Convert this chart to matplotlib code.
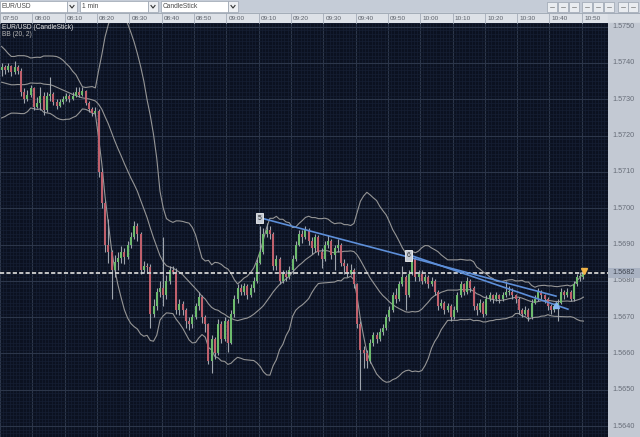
import numpy as np
import pandas as pd
import matplotlib
matplotlib.use("Agg")
import matplotlib.pyplot as plt
import matplotlib.transforms as mtransforms
from matplotlib.patches import Rectangle

plt.rcParams['font.family'] = ['Liberation Sans', 'DejaVu Sans']
plt.rcParams['lines.scale_dashes'] = False

# ---------------- data ----------------
symbol = 'EUR/USD'
period = '1 min'
chart_type = 'CandleStick'
bb_period, bb_mult = 20, 2

# minutes after 07:50 for the time scale labels
time_pos = list(range(0, 181, 10))
time_labels = ['07:50', '08:00', '08:10', '08:20', '08:30', '08:40', '08:50',
               '09:00', '09:10', '09:20', '09:30', '09:40', '09:50',
               '10:00', '10:10', '10:20', '10:30', '10:40', '10:50']
price_ticks = [1.5750, 1.5740, 1.5730, 1.5720, 1.5710, 1.5700,
               1.5690, 1.5680, 1.5670, 1.5660, 1.5650, 1.5640]

# closes before 07:50 (off screen, only feed the bands)
pre_close = [1.5743, 1.5744, 1.5742, 1.5739, 1.5736, 1.5733, 1.5730, 1.5728,
             1.5727, 1.5729, 1.5730, 1.5730, 1.5732, 1.5733, 1.5733, 1.5735,
             1.5736, 1.5737, 1.5738]

close = [
    1.57390, 1.57380, 1.57392, 1.57375, 1.57390, 1.57378, 1.57320, 1.57300, 1.57312, 1.57330,
    1.57280, 1.57290, 1.57310, 1.57270, 1.57310, 1.57315, 1.57292, 1.57282, 1.57292, 1.57300,
    1.57310, 1.57300, 1.57310, 1.57320, 1.57312, 1.57322, 1.57290, 1.57272, 1.57262, 1.57268,
    1.57100, 1.57015, 1.56900, 1.56880, 1.56830, 1.56852, 1.56862, 1.56880, 1.56865, 1.56900,
    1.56922, 1.56950, 1.56930, 1.56830, 1.56842, 1.56838, 1.56710, 1.56730, 1.56770, 1.56780,
    1.56760, 1.56800, 1.56830, 1.56825, 1.56720, 1.56735, 1.56720, 1.56690, 1.56680, 1.56700,
    1.56730, 1.56755, 1.56700, 1.56680, 1.56580, 1.56640, 1.56600, 1.56680, 1.56640, 1.56690,
    1.56630, 1.56710, 1.56750, 1.56780, 1.56770, 1.56785, 1.56760, 1.56780, 1.56800, 1.56850,
    1.56880, 1.56930, 1.56940, 1.56930, 1.56840, 1.56860, 1.56800, 1.56820, 1.56810, 1.56830,
    1.56860, 1.56900, 1.56930, 1.56920, 1.56940, 1.56910, 1.56890, 1.56920, 1.56880, 1.56860,
    1.56900, 1.56910, 1.56870, 1.56890, 1.56900, 1.56850, 1.56840, 1.56820, 1.56830, 1.56790,
    1.56680, 1.56610, 1.56600, 1.56580, 1.56630, 1.56650, 1.56640, 1.56660, 1.56670, 1.56700,
    1.56720, 1.56760, 1.56750, 1.56790, 1.56810, 1.56760, 1.56820, 1.56860, 1.56810, 1.56820,
    1.56800, 1.56810, 1.56790, 1.56800, 1.56770, 1.56730, 1.56740, 1.56720, 1.56730, 1.56700,
    1.56720, 1.56760, 1.56790, 1.56770, 1.56800, 1.56780, 1.56730, 1.56720, 1.56740, 1.56710,
    1.56750, 1.56760, 1.56750, 1.56760, 1.56750, 1.56760, 1.56770, 1.56770, 1.56760, 1.56750,
    1.56720, 1.56710, 1.56720, 1.56700, 1.56740, 1.56750, 1.56770, 1.56760, 1.56750, 1.56730,
    1.56720, 1.56730, 1.56740, 1.56770, 1.56760, 1.56770, 1.56750, 1.56790, 1.56810, 1.56810,
    1.56822,
]
high = [
    1.57400, 1.57395, 1.57400, 1.57395, 1.57405, 1.57395, 1.57385, 1.57330, 1.57325, 1.57340,
    1.57335, 1.57305, 1.57335, 1.57320, 1.57320, 1.57360, 1.57320, 1.57300, 1.57300, 1.57310,
    1.57318, 1.57315, 1.57320, 1.57335, 1.57335, 1.57335, 1.57325, 1.57295, 1.57280, 1.57280,
    1.57272, 1.57110, 1.57020, 1.56970, 1.56885, 1.56870, 1.56880, 1.56895, 1.56890, 1.56910,
    1.56935, 1.56965, 1.56960, 1.56935, 1.56855, 1.56850, 1.56845, 1.56750, 1.56780, 1.56800,
    1.56920, 1.56815, 1.56840, 1.56840, 1.56835, 1.56750, 1.56745, 1.56725, 1.56700, 1.56710,
    1.56740, 1.56770, 1.56760, 1.56705, 1.56685, 1.56650, 1.56645, 1.56695, 1.56690, 1.56700,
    1.56695, 1.56720, 1.56760, 1.56790, 1.56790, 1.56795, 1.56790, 1.56790, 1.56810, 1.56860,
    1.56950, 1.56945, 1.56960, 1.56950, 1.56935, 1.56870, 1.56865, 1.56830, 1.56830, 1.56840,
    1.56870, 1.56910, 1.56940, 1.56940, 1.56950, 1.56945, 1.56920, 1.56930, 1.56925, 1.56890,
    1.56910, 1.56925, 1.56915, 1.56900, 1.56915, 1.56905, 1.56860, 1.56850, 1.56845, 1.56835,
    1.56795, 1.56690, 1.56620, 1.56610, 1.56640, 1.56660, 1.56660, 1.56670, 1.56680, 1.56710,
    1.56730, 1.56770, 1.56780, 1.56800, 1.56840, 1.56815, 1.56830, 1.56880, 1.56865, 1.56830,
    1.56830, 1.56820, 1.56815, 1.56810, 1.56805, 1.56775, 1.56750, 1.56745, 1.56740, 1.56735,
    1.56730, 1.56770, 1.56800, 1.56795, 1.56810, 1.56805, 1.56785, 1.56740, 1.56750, 1.56745,
    1.56760, 1.56770, 1.56765, 1.56770, 1.56765, 1.56770, 1.56800, 1.56785, 1.56780, 1.56765,
    1.56755, 1.56725, 1.56730, 1.56725, 1.56750, 1.56760, 1.56780, 1.56775, 1.56765, 1.56755,
    1.56735, 1.56740, 1.56750, 1.56780, 1.56775, 1.56780, 1.56775, 1.56800, 1.56820, 1.56825,
    1.56835,
]
low = [
    1.57365, 1.57370, 1.57375, 1.57365, 1.57370, 1.57370, 1.57310, 1.57290, 1.57295, 1.57305,
    1.57270, 1.57275, 1.57270, 1.57258, 1.57265, 1.57295, 1.57285, 1.57272, 1.57278, 1.57288,
    1.57295, 1.57292, 1.57298, 1.57305, 1.57305, 1.57308, 1.57285, 1.57265, 1.57255, 1.57255,
    1.57085, 1.57000, 1.56880, 1.56850, 1.56750, 1.56810, 1.56830, 1.56850, 1.56845, 1.56860,
    1.56890, 1.56915, 1.56910, 1.56820, 1.56825, 1.56825, 1.56670, 1.56700, 1.56720, 1.56755,
    1.56730, 1.56750, 1.56790, 1.56820, 1.56710, 1.56705, 1.56705, 1.56670, 1.56665, 1.56670,
    1.56695, 1.56720, 1.56685, 1.56660, 1.56570, 1.56545, 1.56585, 1.56595, 1.56630, 1.56635,
    1.56605, 1.56625, 1.56700, 1.56740, 1.56760, 1.56760, 1.56750, 1.56755, 1.56770, 1.56795,
    1.56845, 1.56875, 1.56920, 1.56915, 1.56830, 1.56830, 1.56790, 1.56795, 1.56800, 1.56805,
    1.56820, 1.56855, 1.56895, 1.56905, 1.56915, 1.56900, 1.56875, 1.56880, 1.56870, 1.56835,
    1.56855, 1.56890, 1.56860, 1.56830, 1.56880, 1.56840, 1.56820, 1.56810, 1.56815, 1.56780,
    1.56670, 1.56500, 1.56560, 1.56560, 1.56575, 1.56620, 1.56630, 1.56635, 1.56650, 1.56665,
    1.56690, 1.56715, 1.56740, 1.56745, 1.56785, 1.56720, 1.56755, 1.56815, 1.56800, 1.56800,
    1.56790, 1.56795, 1.56780, 1.56785, 1.56760, 1.56720, 1.56725, 1.56710, 1.56715, 1.56690,
    1.56695, 1.56715, 1.56755, 1.56760, 1.56765, 1.56770, 1.56720, 1.56705, 1.56715, 1.56700,
    1.56705, 1.56745, 1.56740, 1.56745, 1.56740, 1.56745, 1.56755, 1.56760, 1.56750, 1.56740,
    1.56710, 1.56700, 1.56705, 1.56690, 1.56695, 1.56735, 1.56745, 1.56750, 1.56740, 1.56720,
    1.56710, 1.56715, 1.56690, 1.56735, 1.56750, 1.56755, 1.56745, 1.56745, 1.56785, 1.56800,
    1.56805,
]

# drawn trend lines (minute, price) and their point labels
trend_a_t, trend_a_p = [81.6, 172.0], [1.56971, 1.56758]
trend_b_t, trend_b_p = [127.1, 175.7], [1.56870, 1.56722]
point_labels = ['5', '6']
point_t = [80.4, 126.5]
point_p = [1.56973, 1.56870]
signal_up = (172.1, 1.56733)
signal_last = (180.7, 1.56826)

# ---------------- derived ----------------
close_a = np.array(close)
open_a = np.r_[pre_close[-1], close_a[:-1]]
t = np.arange(len(close)) + 0.5

series = pd.Series(pre_close + close)
mid = series.rolling(bb_period).mean().values[len(pre_close):]
sd = series.rolling(bb_period).std(ddof=0).values[len(pre_close):]
upper = mid + bb_mult * sd
lower = mid - bb_mult * sd

# ---------------- figure ----------------
W, H = 640, 437
BG = '#0b1120'
fig = plt.figure(figsize=(W / 100, H / 100), dpi=100)
fig.patch.set_facecolor('#c3c9d3')

# window chrome drawn in pixel coordinates
chrome = fig.add_axes([0, 0, 1, 1], zorder=0)
chrome.set_xlim(0, W); chrome.set_ylim(H, 0); chrome.axis('off')
chrome.add_patch(Rectangle((0, 0), W, 13, color='#c5ccd7'))
chrome.add_patch(Rectangle((0, 13), 608, 10, color='#dde1e7'))
chrome.add_patch(Rectangle((608, 13), 32, 10, color='#d6dbe2'))
chrome.add_patch(Rectangle((608, 23), 32, H - 23, color='#c3c9d3'))
chrome.plot([0, W], [13, 13], color='#9aa3b0', lw=0.6)

for x0, x1, txt in [(0, 67, symbol), (80, 148, period), (161, 228, chart_type)]:
    chrome.add_patch(Rectangle((x0, 1), x1 - x0, 11, fc='white', ec='#9aa3b0', lw=0.5))
    chrome.add_patch(Rectangle((x1, 1), 10, 11, fc='#eef0f3', ec='#9aa3b0', lw=0.5))
    chrome.plot([x1 + 3, x1 + 5, x1 + 7], [5.5, 8, 5.5], color='#333333', lw=0.8)
    chrome.text(x0 + 2, 6.8, txt, fontsize=4.8, color='#4a4a4a', va='center', ha='left')

for bx in [547, 558, 569, 582, 593, 604, 618, 628]:
    chrome.add_patch(Rectangle((bx, 2), 10, 10, fc='#e9ecf0', ec='#9aa3b0', lw=0.5))
    chrome.plot([bx + 3, bx + 7], [7, 7], color='#777777', lw=0.5)

# price chart
ax = fig.add_axes([0, 0, 608 / W, (H - 23) / H], zorder=2)
ax.set_facecolor(BG)
ax.set_xlim(0.98, 188.1)
ax.set_ylim(1.563783, 1.575082)
for s in ax.spines.values():
    s.set_visible(False)

ax.set_xticks(time_pos)
ax.set_xticks(np.arange(0, 189, 1), minor=True)
ax.set_yticks(price_ticks)
ax.set_yticks(np.arange(1.5637, 1.5752, 0.0001), minor=True)
ax.tick_params(which='both', length=0, labelleft=False, labelbottom=False)
ax.grid(which='major', color='#2c364a', lw=0.8)
ax.grid(which='minor', color='#161f33', lw=0.5)
ax.set_axisbelow(True)

# bollinger bands
for band in (upper, mid, lower):
    ax.plot(t, band, color='#959595', lw=0.8, zorder=3)

# candles
up = close_a >= open_a
ax.vlines(t, low, high, color='#9ea4ac', lw=0.8, zorder=4)
body_bottom = np.minimum(open_a, close_a)
body_h = np.maximum(np.abs(close_a - open_a), 0.00002)
ax.bar(t, body_h, bottom=body_bottom, width=0.62,
       color=np.where(up, '#6dbb6d', '#c0606c'), lw=0, zorder=5)

# current price line
last = close[-1]
ax.axhline(last, color='#d2d2d2', lw=1.3, dashes=(3, 1.6), zorder=6)

# trend lines and markers
ax.plot(trend_a_t, trend_a_p, color='#5d8fd9', lw=1.2, zorder=7)
ax.plot(trend_b_t, trend_b_p, color='#5d8fd9', lw=1.2, zorder=7)
for lab, pt, pp in zip(point_labels, point_t, point_p):
    ax.text(pt, pp, lab, fontsize=4.8, color='#222222', ha='center', va='center', zorder=8,
            bbox=dict(boxstyle='square,pad=0.25', fc='#c6ccd5', ec='#f2f2f2', lw=0.6))
ax.plot(*signal_up, marker='^', ms=4.5, color='#86b6f0', zorder=8)
ax.plot(*signal_last, marker='v', ms=4, color='#f0b448', zorder=8)

# legend text
ax.text(2 / 608, 1 - 4.3 / 414, f'{symbol} ({chart_type})', transform=ax.transAxes,
        fontsize=4.8, color='#e4e4e4', va='center', ha='left')
ax.text(2 / 608, 1 - 11.5 / 414, f'BB ({bb_period}, {bb_mult})', transform=ax.transAxes,
        fontsize=4.8, color='#b8b8b8', va='center', ha='left')

# time scale above the chart
top = mtransforms.blended_transform_factory(ax.transData, ax.transAxes)
for tp, lab in zip(time_pos, time_labels):
    ax.plot([tp, tp], [1.0, 1 + 10 / 414], color='#a4acb8', lw=0.6,
            transform=top, clip_on=False)
    ax.text(tp + 0.7, 1 + 5 / 414, lab, transform=top, fontsize=4.6,
            color='#5a5f68', ha='left', va='center', clip_on=False)

# price scale on the right
right = mtransforms.blended_transform_factory(ax.transAxes, ax.transData)
for p in price_ticks:
    ax.text(1 + 4.5 / 608, p, f'{p:.4f}', transform=right, fontsize=5.2,
            color='#676d78', ha='left', va='center', clip_on=False)
span = (1.575082 - 1.563783) / 414
ax.add_patch(Rectangle((1.0, last - 5 * span), 32 / 608, 10 * span, transform=right,
                       fc='#a9b2c2', ec='none', clip_on=False, zorder=9))
ax.text(1 + 4.5 / 608, last, f'{last:.4f}', transform=right, fontsize=5.2,
        color='#3e4450', ha='left', va='center', clip_on=False, zorder=10)

fig.savefig('out.png', dpi=100, facecolor=fig.get_facecolor())
